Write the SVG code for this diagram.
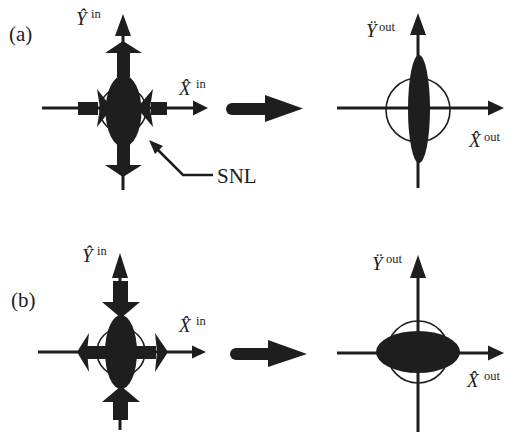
<svg xmlns="http://www.w3.org/2000/svg" width="514" height="435" viewBox="0 0 514 435">
<style>
.f{fill:#1e1e1e;stroke:none}
.ax{stroke:#1e1e1e;stroke-width:3;fill:none}
.ci{stroke:#1e1e1e;stroke-width:1.6;fill:none}
.t{font-family:"Liberation Serif","Times New Roman",serif;fill:#1e1e1e}
.v{font-style:italic;font-size:19px}
.s{font-size:12.5px}
.p{font-size:21px}
</style>
<rect width="514" height="435" fill="#fff"/>
<text class="t p" x="9" y="41">(a)</text>
<text class="t p" x="11" y="307">(b)</text>

<g id="a-in">
<line class="ax" x1="123" y1="34" x2="123" y2="190"/>
<polygon class="f" points="123,14 131,36 115,36"/>
<line class="ax" x1="42" y1="108" x2="195" y2="108"/>
<polygon class="f" points="208,108 193,100.5 193,115.5"/>
<ellipse class="f" cx="123.5" cy="111" rx="18" ry="36"/>
<circle class="ci" cx="123" cy="110" r="23"/>
<polygon class="f" points="123,41 142,53 130,53 130,77 117,77 117,53 105,53"/>
<polygon class="f" points="117,145 130,145 130,165 142,165 123,177 105,165 117,165"/>
<rect class="f" x="78" y="102" width="20" height="13"/>
<polygon class="f" points="97,89 112,108 97,127 100,108"/>
<rect class="f" x="151" y="102" width="16" height="13"/>
<polygon class="f" points="153,89 137,108 153,127 150,108"/>
<text class="t v" x="76" y="25">Y&#770;</text>
<text class="t s" x="91" y="18">in</text>
<text class="t v" x="179" y="95">X&#770;</text>
<text class="t s" x="196" y="88">in</text>
</g>

<g id="a-out">
<line class="ax" x1="418" y1="33" x2="418" y2="188"/>
<polygon class="f" points="418,13 426,35 410,35"/>
<line class="ax" x1="337" y1="108" x2="490" y2="108"/>
<polygon class="f" points="504,108 488,100.5 488,115.5"/>
<circle class="ci" cx="418" cy="110" r="32"/>
<ellipse class="f" cx="419" cy="109" rx="11" ry="54"/>
<text class="t v" x="366" y="37">&#376;</text>
<text class="t s" x="379" y="31">out</text>
<text class="t v" x="469" y="147">X&#770;</text>
<text class="t s" x="484" y="141">out</text>
</g>

<g id="b-in">
<line class="ax" x1="120" y1="276" x2="120" y2="430"/>
<polygon class="f" points="120,253 128,278 112,278"/>
<line class="ax" x1="38" y1="352" x2="194" y2="352"/>
<polygon class="f" points="206,352 192,345.5 192,358.5"/>
<ellipse class="f" cx="121" cy="352" rx="16" ry="37"/>
<circle class="ci" cx="121" cy="352" r="24"/>
<polygon class="f" points="113,281 128,281 128,302 140,302 121,318 102,302 113,302"/>
<polygon class="f" points="121,386 140,402 128,402 128,420 113,420 113,402 102,402"/>
<rect class="f" x="86" y="346" width="70" height="13"/>
<polygon class="f" points="77,352 89,333 87,352 89,372"/>
<polygon class="f" points="168,352 155,333 157,352 155,372"/>
<text class="t v" x="82" y="262">Y&#770;</text>
<text class="t s" x="97" y="255">in</text>
<text class="t v" x="179" y="332">X&#770;</text>
<text class="t s" x="196" y="325">in</text>
</g>

<g id="b-out">
<line class="ax" x1="418" y1="276" x2="418" y2="432"/>
<polygon class="f" points="418,255 426,278 410,278"/>
<line class="ax" x1="337" y1="353" x2="490" y2="353"/>
<polygon class="f" points="504,353 488,345.5 488,360.5"/>
<circle class="ci" cx="418" cy="352" r="31"/>
<ellipse class="f" cx="418" cy="352" rx="42" ry="21"/>
<text class="t v" x="372" y="270">&#376;</text>
<text class="t s" x="386" y="263">out</text>
<text class="t v" x="467" y="387">X&#770;</text>
<text class="t s" x="484" y="380">out</text>
</g>

<g id="connectors">
<line x1="232" y1="109" x2="267" y2="109" stroke="#1e1e1e" stroke-width="12" stroke-linecap="round"/>
<polygon class="f" points="265,95 303,108.5 265,122"/>
<line x1="236" y1="354" x2="270" y2="354" stroke="#1e1e1e" stroke-width="12" stroke-linecap="round"/>
<polygon class="f" points="268,340 307,354 268,367"/>
<polyline points="155,147 183,175 213,175" stroke="#1e1e1e" stroke-width="2.5" fill="none"/>
<polygon class="f" points="149,140 163,146 155,154"/>
<text class="t p" x="217" y="183">SNL</text>
</g>
</svg>
